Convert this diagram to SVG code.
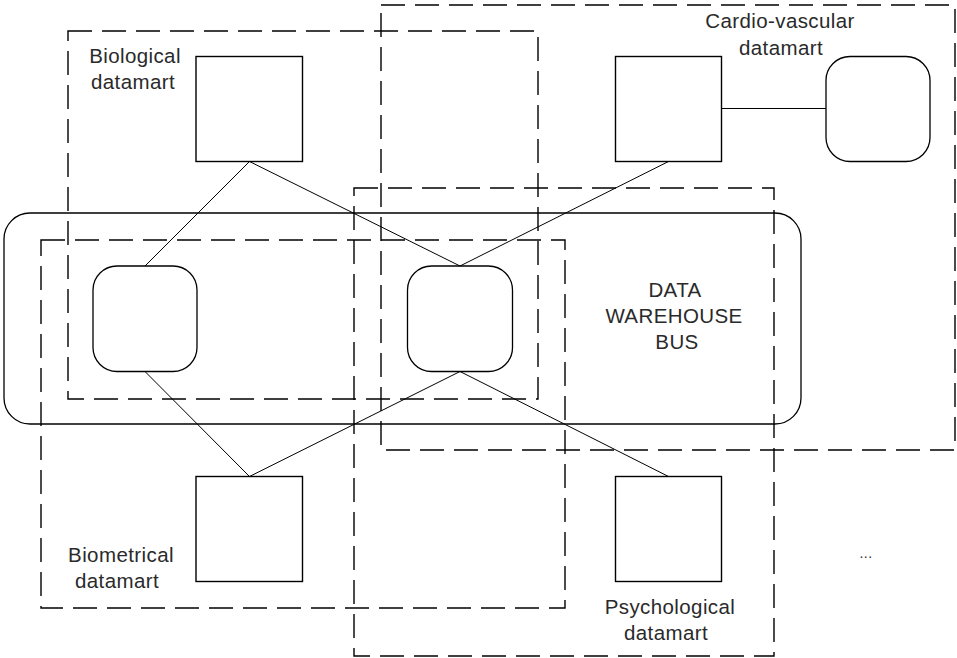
<svg xmlns="http://www.w3.org/2000/svg" width="957" height="658" viewBox="0 0 957 658">
<style>
.dm{fill:none;stroke:#000;stroke-width:1.4;stroke-dasharray:24 10}
.sq{fill:none;stroke:#000;stroke-width:1.4}
.rn{fill:none;stroke:#000;stroke-width:1.3}
.cn{fill:none;stroke:#000;stroke-width:1}
text{font-family:"Liberation Sans",Arial,sans-serif;font-size:20.5px;fill:#2a2a2a;text-anchor:middle;letter-spacing:0.4px}
</style>
<rect width="957" height="658" fill="#fff"/>
<g id="biological-datamart">
<rect class="dm" x="68" y="31" width="470" height="368"/>
<text x="135" y="63">Biological</text>
<text x="133" y="89">datamart</text>
</g>
<g id="cardio-datamart">
<rect class="dm" x="381" y="5" width="574" height="445"/>
<text x="780" y="28">Cardio-vascular</text>
<text x="781" y="55">datamart</text>
</g>
<g id="psychological-datamart">
<rect class="dm" x="354" y="188" width="420" height="468"/>
<text x="670" y="614">Psychological</text>
<text x="666" y="640">datamart</text>
</g>
<g id="biometrical-datamart">
<rect class="dm" x="41" y="240" width="524" height="368"/>
<text x="121" y="562">Biometrical</text>
<text x="117" y="588">datamart</text>
</g>
<g id="bus">
<rect class="rn" x="4" y="213" width="797" height="211" rx="26" ry="26"/>
<text x="675" y="297">DATA</text>
<text x="674" y="323">WAREHOUSE</text>
<text x="677" y="349">BUS</text>
</g>
<g id="bio-table"><rect class="sq" x="196" y="56.5" width="106.5" height="105"/></g>
<g id="cardio-table"><rect class="sq" x="615.5" y="56.5" width="106" height="105"/></g>
<g id="cardio-node"><rect class="rn" x="826" y="56.5" width="104" height="105" rx="24" ry="24"/></g>
<g id="bus-node-left"><rect class="rn" x="93" y="266" width="104" height="105.5" rx="24" ry="24"/></g>
<g id="bus-node-mid"><rect class="rn" x="407.5" y="266" width="105" height="105.5" rx="24" ry="24"/></g>
<g id="biometric-table"><rect class="sq" x="196" y="476.5" width="106.5" height="105"/></g>
<g id="psych-table"><rect class="sq" x="615.5" y="476.5" width="106" height="105"/></g>
<g id="connectors">
<line class="cn" x1="721.5" y1="108.5" x2="826" y2="108.5"/>
<line class="cn" x1="249.5" y1="161.5" x2="145" y2="266"/>
<line class="cn" x1="249.5" y1="161.5" x2="460" y2="266"/>
<line class="cn" x1="668.5" y1="161.5" x2="460" y2="266"/>
<line class="cn" x1="145" y1="371.5" x2="249.5" y2="476.5"/>
<line class="cn" x1="460" y1="371.5" x2="249.5" y2="476.5"/>
<line class="cn" x1="460" y1="371.5" x2="668.5" y2="476.5"/>
</g>
<text x="866" y="558" style="font-size:14px">...</text>
</svg>
